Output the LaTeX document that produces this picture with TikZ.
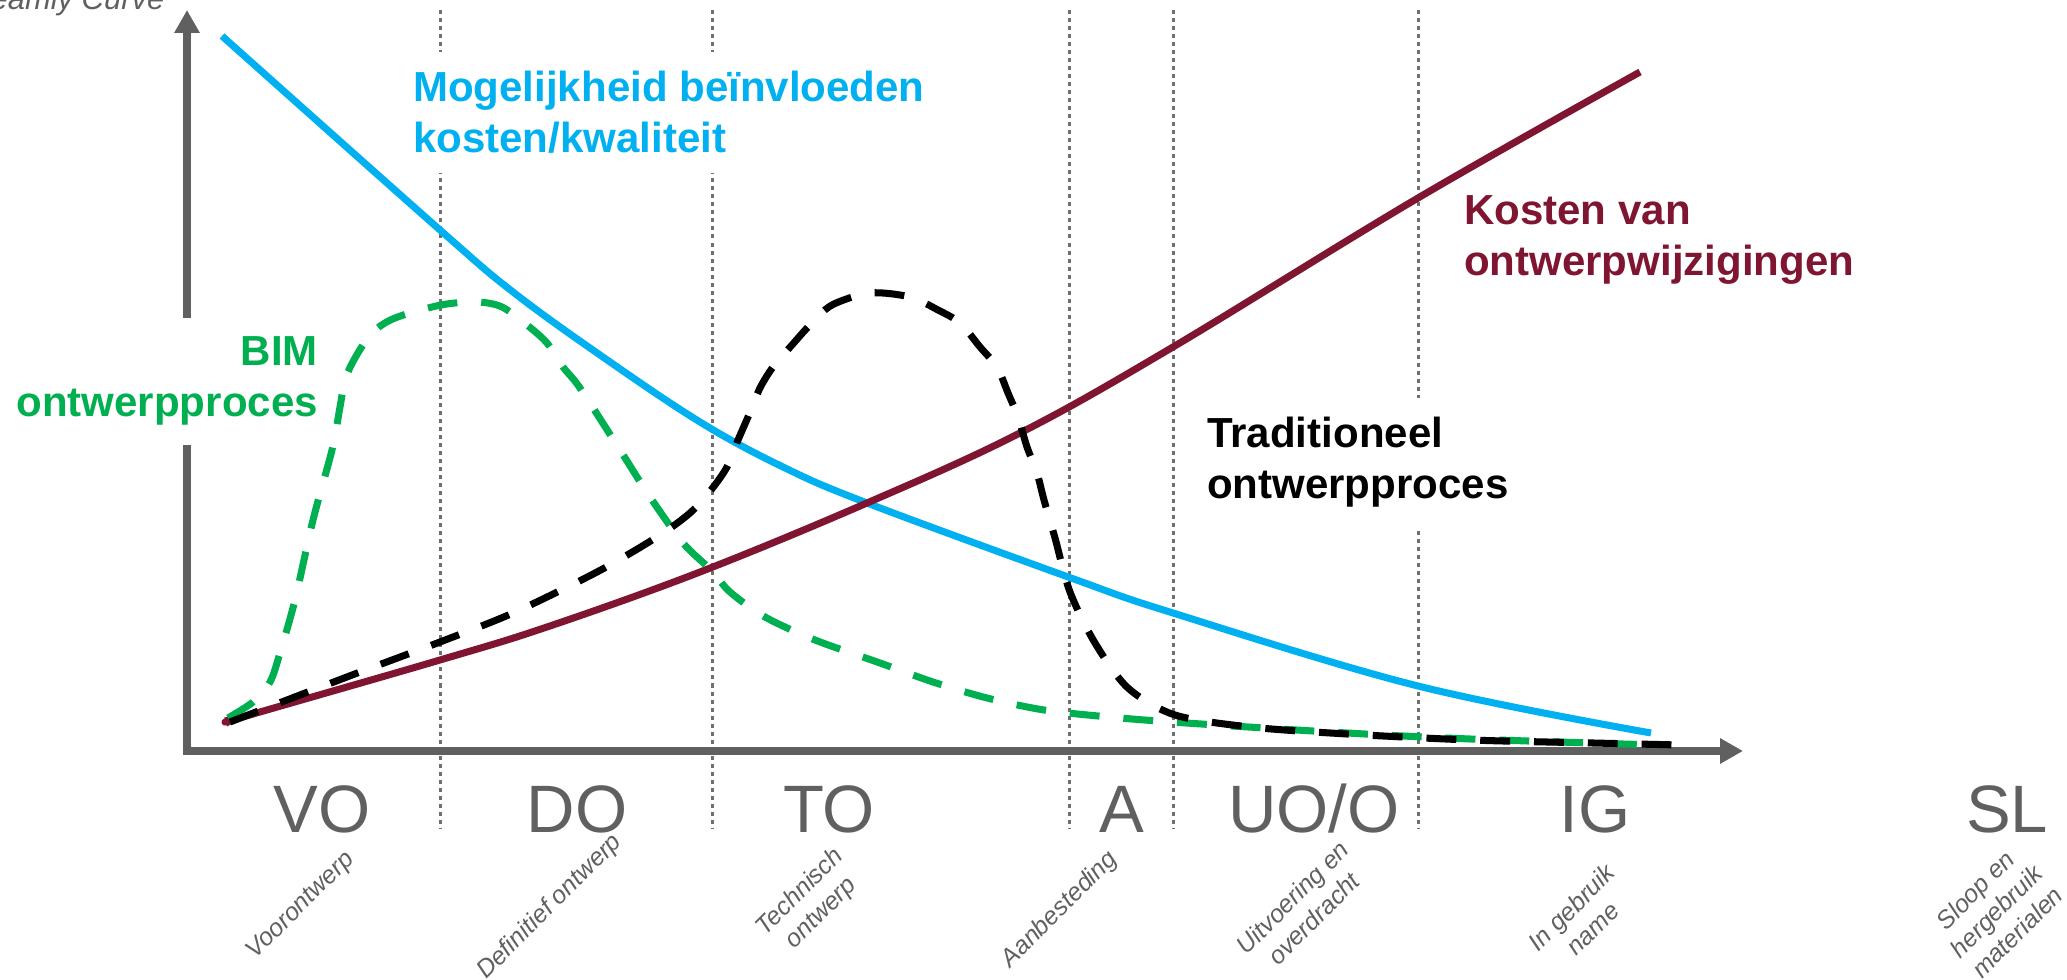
\documentclass[tikz,border=0pt]{standalone}
\usepackage{fontspec}
\setmainfont{Liberation Sans}
\usetikzlibrary{arrows.meta}
\definecolor{kansblauw}{RGB}{0,176,240}
\definecolor{kostenrood}{RGB}{128,21,50}
\definecolor{bimgroen}{RGB}{0,176,80}
\definecolor{asgrijs}{RGB}{96,96,96}
\definecolor{stippelgrijs}{RGB}{112,112,112}

\begin{document}
\begin{tikzpicture}[x=0.01cm,y=-0.01cm,
  as/.style={asgrijs,line width=2.28pt,line join=miter},
  fasegrens/.style={stippelgrijs,line width=0.85pt,dash pattern=on 1.14pt off 1.14pt},
  kromme/.style={line width=2pt,line join=round},
  streep/.style={line width=2pt,dash pattern=on 8.5pt off 6.8pt},
  kop/.style={font=\fontsize{11.95}{14.5}\selectfont\bfseries,fill=white,inner xsep=1pt,inner ysep=5.5pt},
  fasecode/.style={asgrijs,font=\fontsize{19.07}{22}\selectfont,inner sep=0pt,anchor=base},
  faseuitleg/.style={asgrijs,font=\fontsize{7.1}{8.5}\selectfont\itshape,rotate=45,align=center,inner sep=0pt}]
  \useasboundingbox (0,0) rectangle (2067,980);

  \draw[fasegrens](440,10)--(440,828);
  \draw[fasegrens](712,10)--(712,828);
  \draw[fasegrens](1069,10)--(1069,828);
  \draw[fasegrens](1173,10)--(1173,828);
  \draw[fasegrens](1418,10)--(1418,828);
  \draw[as,{Triangle[length=6.5pt,width=6.8pt]}-{Triangle[length=6.5pt,width=6.8pt]}](187,10)--(187,751)--(1743,751);

  \node[asgrijs,font=\fontsize{8.8}{10}\selectfont\itshape,inner sep=0pt,anchor=base east] (titel) at (165,10) {eamly Curve};
  \node[kop,text=kansblauw,align=left,anchor=north west] (kans) at (409,51) {Mogelijkheid beïnvloeden\\kosten/kwaliteit};
  \node[kop,text=bimgroen,align=right,anchor=north east] (bim) at (322,317) {BIM\\ontwerpproces};
  \node[kop,text=kostenrood,align=left,anchor=north west] (kosten) at (1460,176) {Kosten van\\ontwerpwijzigingen};
  \node[kop,text=black,align=left,anchor=north west] (trad) at (1203,397) {Traditioneel\\ontwerpproces};

  \node[fasecode] (vo) at (322,833) {VO};
  \node[fasecode] (do) at (577,833) {DO};
  \node[fasecode] (to) at (829,833) {TO};
  \node[fasecode] (a) at (1122,833) {A};
  \node[fasecode] (uo) at (1314,833) {UO/O};
  \node[fasecode] (ig) at (1595,833) {IG};
  \node[fasecode] (sl) at (2007,833) {SL};
  \node[faseuitleg] (vouitleg) at (301,906) {Voorontwerp};
  \node[faseuitleg] (douitleg) at (550,907) {Definitief ontwerp};
  \node[faseuitleg] (touitleg) at (811,903) {Technisch\\ontwerp};
  \node[faseuitleg] (auitleg) at (1060,910) {Aanbesteding};
  \node[faseuitleg] (uouitleg) at (1303,908) {Uitvoering en\\overdracht};
  \node[faseuitleg] (iguitleg) at (1582,918) {In gebruik\\name};
  \node[faseuitleg] (sluitleg) at (1996,911) {Sloop en\\hergebruik\\materialen};

  \draw[kromme,kansblauw] plot[smooth,tension=0.6] coordinates {(222,36)(440,230)(513,292)(600,355)(700,422)(783,467)(867,503)(1071,578)(1173,613)(1418,686)(1651,733)};
  \draw[kromme,kostenrood,{Triangle[length=9pt,width=2pt]}-] plot[smooth,tension=0.6] coordinates {(202,729)(260,712)(440,660)(547,627)(700,572)(867,503)(1020,433)(1173,347)(1418,198)(1640,72)};
  \draw[streep,bimgroen] plot[smooth,tension=0.5] coordinates {(228,718)(253,702)(270,682)(280,653)(295,600)(313,520)(332,450)(340,407)(345,380)(355,358)(372,333)(395,318)(441,305)(477,302)(502,307)(527,325)(547,343)(563,367)(580,388)(620,450)(650,497)(683,543)(711,570)(730,592)(765,617)(815,640)(880,663)(933,682)(987,698)(1044,710)(1109,717)(1186,723)(1347,733)(1470,739)(1655,745)};
  \draw[streep,black] plot[smooth,tension=0.5] coordinates {(230,722)(287,700)(360,672)(440,642)(513,613)(597,572)(657,537)(690,513)(711,490)(727,467)(738,440)(748,417)(760,388)(773,367)(792,345)(810,325)(832,305)(870,293)(910,297)(938,310)(960,323)(980,347)(997,367)(1008,393)(1018,417)(1027,447)(1037,473)(1044,500)(1055,538)(1070,592)(1095,643)(1128,688)(1175,715)(1250,727)(1347,734)(1470,740)(1593,743)(1680,745)};
\end{tikzpicture}
\end{document}
